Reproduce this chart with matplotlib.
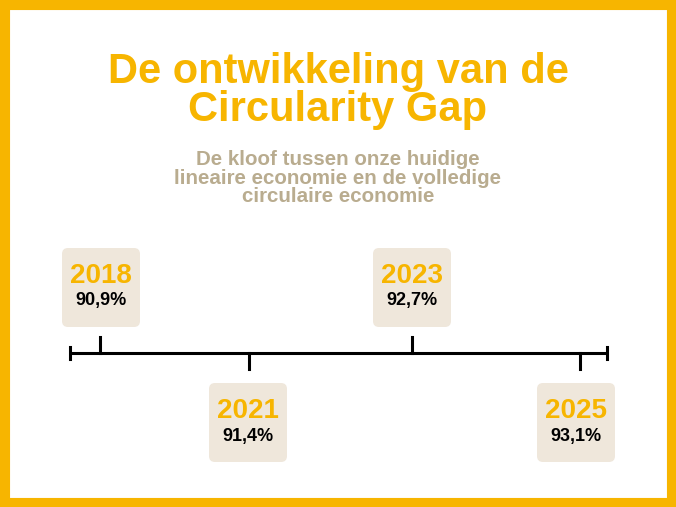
import matplotlib.pyplot as plt
from matplotlib.patches import FancyBboxPatch, Rectangle

years = ["2018", "2021", "2023", "2025"]
gap_values = ["90,9%", "91,4%", "92,7%", "93,1%"]

title = "De ontwikkeling van de\nCircularity Gap"
subtitle = "De kloof tussen onze huidige\nlineaire economie en de volledige\ncirculaire economie"

yellow = "#F7B500"
beige = "#EFE7DB"
sub_col = "#B9AC8F"

tick_x = [100, 249, 412, 580]
box_left = [62, 209, 373, 537]
box_up = [True, False, True, False]

fig = plt.figure(figsize=(6.76, 5.07), dpi=100)
ax = fig.add_axes([0, 0, 1, 1])
ax.set_xlim(0, 676)
ax.set_ylim(507, 0)
ax.axis("off")

ax.add_patch(Rectangle((4, 4), 668, 499, fill=False, edgecolor=yellow, linewidth=8))

ax.text(338, 91, title, ha="center", va="center", fontsize=30, fontweight="bold",
        color=yellow, linespacing=0.93, family="Liberation Sans")
ax.text(338, 178, subtitle, ha="center", va="center", fontsize=14.8, fontweight="bold",
        color=sub_col, linespacing=0.98, family="Liberation Sans")

# timeline
line_y = 353
ax.plot([70, 607], [line_y, line_y], color="black", lw=2.2, solid_capstyle="butt")
for ex in (70, 607):
    ax.plot([ex, ex], [line_y - 6, line_y + 6], color="black", lw=2.2)

for x, bx, up, yr, val in zip(tick_x, box_left, box_up, years, gap_values):
    if up:
        ax.plot([x, x], [line_y, line_y - 16], color="black", lw=2.2)
        top = 248
    else:
        ax.plot([x, x], [line_y, line_y + 16], color="black", lw=2.2)
        top = 383
    ax.add_patch(FancyBboxPatch((bx + 6, top + 6), 78 - 12, 79 - 12,
                                boxstyle="round,pad=6", facecolor=beige, edgecolor="none"))
    cx = bx + 39
    ax.text(cx, top + 28, yr, ha="center", va="center", fontsize=20, fontweight="bold",
            color=yellow, family="Liberation Sans")
    ax.text(cx, top + 53, val, ha="center", va="center", fontsize=13, fontweight="bold",
            color="black", family="Liberation Sans")

fig.savefig("out.png", dpi=100)
